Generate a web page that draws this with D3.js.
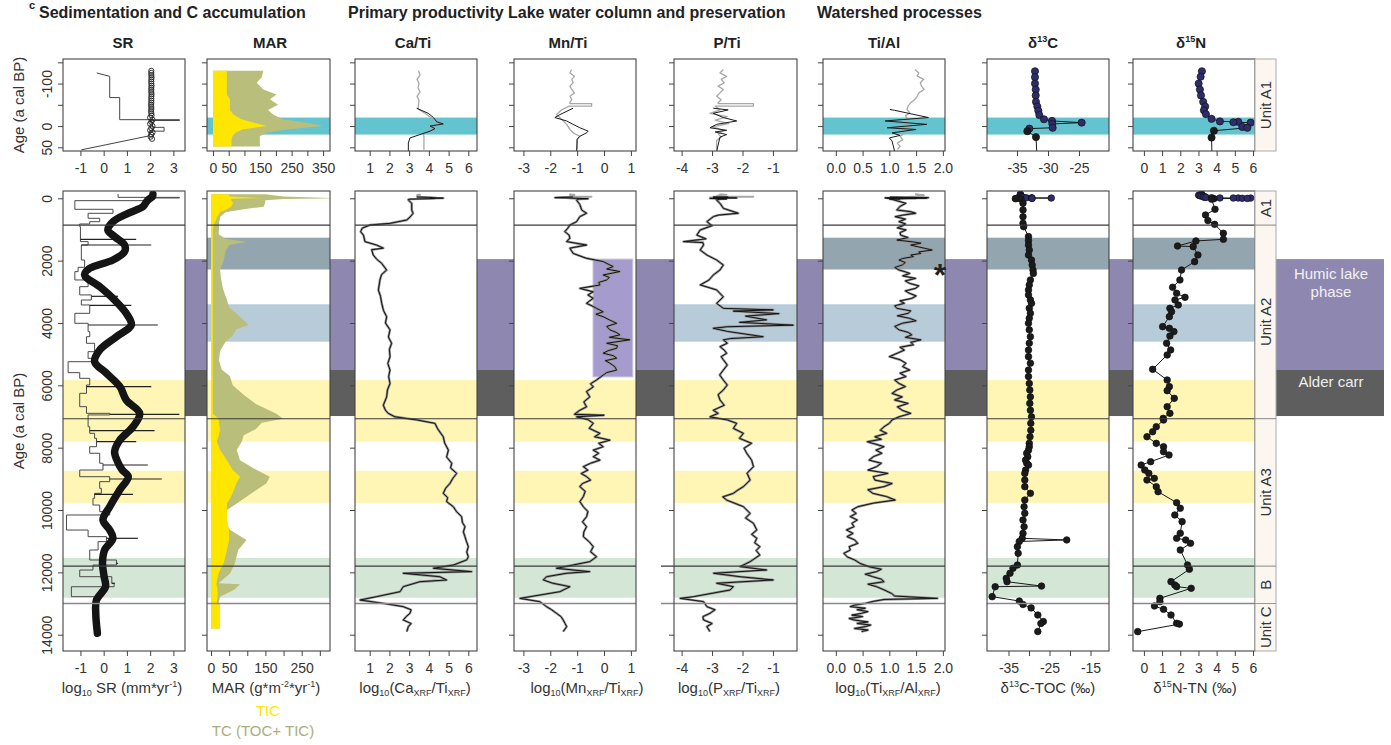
<!DOCTYPE html>
<html>
<head>
<meta charset="utf-8">
<script src="https://cdn.jsdelivr.net/npm/d3@7"></script>
<style>
  body { margin: 0; background: #fff; }
  text { font-family: "Liberation Sans", Arial, sans-serif; }
</style>
</head>
<body>
<svg id="chart" width="1391" height="745"></svg>
<script>
// ---------------- data (ages in a cal BP) ----------------
// intervals
const humicAges = [1950, 5490];
const alderAges = [5490, 6985];
const bandSlate = [1264, 2284];
const bandBlue = [3400, 4600];
const bandYellow1 = [5830, 7810];
const bandYellow2 = [8740, 9770];
const bandGreen = [11540, 12815];
const cyanTop = [-20, 20];
const unitBounds = [860, 7070, 11800, 13000];
const unitNames = ["A1", "Unit A2", "Unit A3", "B", "Unit C"];
const mnBoxAge = [1950, 5730];
const mnBoxVal = [-0.41, 1.07];

// SR top (last ~200 yr)
const srTopAge = [-125, -117, -67, -67, -15, -15, -13, -13, -9, -9, 3, 3, 12, 12, 23, 56];
const srTopVal = [-0.3, 0.26, 0.26, 0.69, 0.69, 3.26, 3.26, 2.0, 2.0, 2.1, 2.1, 2.6, 2.6, 1.96, 1.96, -0.96];
const srCircAge = [-130, -125, -120, -115, -110, -105, -100, -95, -90, -85, -80, -75, -70, -65, -60, -55, -50, -45, -40, -35, -30, -25, -20, -15, -10, -5, 0, 5, 10, 15, 20, 25, 30];
const srCircVal = [2.05, 2.05, 2.05, 2.06, 2.05, 2.05, 2.05, 2.06, 2.05, 2.05, 2.05, 2.06, 2.05, 2.05, 2.05, 2.05, 2.04, 2.05, 2.05, 2.04, 2.05, 2.06, 2.0, 2.1, 2.05, 2.0, 2.1, 2.05, 2.0, 2.1, 2.05, 2.02, 2.08];
// SR bottom: step record, spikes and smoothed curve
const srStepAge = [-140, -30, -10, 76, 353, 482, 642, 750, 824, 910, 1390, 1498, 1980, 2214, 2353, 2620, 2835, 3100, 3263, 3422, 3690, 4010, 4277, 4440, 4652, 4920, 5133, 5242, 5594, 5776, 5990, 6257, 6685, 6898, 6950, 7328, 7540, 7700, 7970, 8180, 8500, 8717, 8931, 9090, 9305, 9465, 9625, 9840, 10053, 10160, 10642, 10855, 11015, 11283, 11604, 11765, 11925, 12140, 12354, 12461, 12780];
const srStepVal = [0.62, 3.26, 2.05, -1.24, 0.4, -0.67, -0.17, -0.6, -1.03, -1.0, -0.67, -0.96, -0.82, -1.1, -1.24, -0.67, -1.03, -0.53, -0.96, -0.6, -1.24, -0.67, -0.6, -0.74, -0.39, -0.67, -0.46, -1.53, -1.03, -0.6, -0.74, -1.03, -0.74, 0.26, -0.67, -0.6, -0.39, -0.31, -0.6, -0.17, -0.03, -1.03, 0.26, -0.17, -0.1, -0.39, -0.46, -0.17, 0.26, -1.6, -0.67, 0.12, -0.24, -0.6, 0.55, -0.46, -1.03, 0.35, 0.45, -1.39, -0.17];
const srStepEnd = 12888;
const srSpikeAge = [1316, 1498, 3145, 3434, 4065, 6044, 6930, 7456, 7808, 8556, 9005, 9497, 10908, 11710, 12351];
const srSpikeVal = [1.4, 2.05, 0.62, 1.19, 2.33, 2.05, 3.26, 2.19, 1.4, 1.9, 2.5, 1.26, 1.47, 0.62, 0.48];
const srSmoothAge = [-130, -60, 0, 100, 268, 482, 750, 1017, 1230, 1498, 1712, 1980, 2246, 2460, 2835, 3263, 3690, 4065, 4440, 4867, 5242, 5614, 6044, 6471, 6898, 7328, 7754, 8129, 8450, 8717, 8931, 9358, 9894, 10320, 10642, 10908, 11283, 11710, 12140, 12461, 12888, 13314, 13956];
const srSmoothVal = [2.12, 2.1, 2.0, 1.85, 1.69, 1.05, 0.4, 0.18, 0.47, 0.9, 0.9, 0.4, -0.6, -0.82, -0.17, 0.47, 0.97, 1.19, 0.55, -0.17, -0.39, 0.12, 0.7, 0.97, 1.55, 1.26, 0.7, 0.47, 0.6, 0.8, 1.06, 0.69, 0.26, -0.03, 0.26, 0.4, 0.04, -0.05, 0.02, 0.08, -0.31, -0.34, -0.27];

// MAR (g m-2 yr-1)
const marTopAge = [-130, -115, -102, -86, -74, -63, -50, -38, -27, -16, -8, 0, 8, 16, 24, 32, 48];
const tcTop = [160, 155, 139, 160, 202, 181, 207, 175, 191, 223, 297, 351, 234, 170, 149, 149, 149];
const ticTop = [44, 44, 44, 44, 44, 54, 54, 54, 65, 90, 130, 171, 93, 72, 62, 59, 59];
const marAge = [-130, -60, -5, 5, 20, 60, 150, 268, 350, 450, 600, 800, 1000, 1150, 1300, 1400, 1500, 1700, 2000, 2300, 2600, 2900, 3260, 3500, 3690, 4065, 4200, 4400, 4600, 4900, 5200, 5500, 5700, 6000, 6300, 6600, 6900, 7070, 7200, 7400, 7600, 7800, 8075, 8400, 8720, 8931, 9145, 9400, 9572, 9800, 10000, 10320, 10642, 10963, 11283, 11710, 12030, 12352, 12380, 12550, 12782, 12995, 13050, 13800];
const tc = [150, 200, 330, 310, 200, 150, 149, 145, 90, 40, 25, 22, 22, 21, 40, 98, 50, 40, 35, 25, 28, 33, 44, 50, 70, 104, 70, 60, 40, 25, 22, 30, 52, 60, 90, 124, 179, 199, 140, 124, 90, 85, 71, 80, 126, 162, 153, 120, 98, 70, 44, 35, 53, 98, 75, 66, 53, 21, 80, 65, 25, 21, 25, 25];
const tic = [44, 54, 138, 76, 55, 55, 61, 55, 44, 25, 17, 10, 5, 5, 5, 5, 5, 5, 5, 5, 5, 5, 5, 5, 5, 5, 5, 5, 5, 5, 5, 5, 5, 5, 5, 5, 5, 21, 22, 25, 22, 16, 25, 44, 60, 80, 70, 62, 55, 44, 44, 44, 50, 50, 44, 35, 21, 15, 15, 18, 18, 16, 25, 25];

// log10 Ca/Ti
const caTopGrayAge = [-130, -120, -110, -100, -90, -80, -70, -60, -50, -40, -30, -20, -10, -4, 2, 8, 14, 20, 24, 40, 56];
const caTopGrayVal = [3.47, 3.55, 3.4, 3.5, 3.45, 3.55, 3.4, 3.5, 3.47, 3.45, 3.8, 4.1, 4.3, 4.5, 4.06, 4.23, 3.9, 3.72, 3.75, 3.75, 3.75];
const caTopAge = [-42, -30, -20, -10, -5, 0, 6, 12, 20, 28, 40, 56];
const caTopVal = [3.38, 3.97, 4.23, 4.4, 4.73, 4.06, 4.31, 4.06, 3.55, 3.04, 2.96, 2.96];
const caAge = [160, 375, 482, 600, 696, 803, 857, 960, 1070, 1180, 1390, 1500, 1600, 1650, 1820, 1950, 2090, 2300, 2450, 2620, 2940, 3150, 3370, 3600, 3800, 4000, 4220, 4450, 4650, 4850, 5080, 5300, 5510, 5720, 5940, 6150, 6370, 6640, 6800, 6900, 7010, 7110, 7220, 7400, 7650, 7850, 8080, 8300, 8500, 8650, 8825, 9000, 9145, 9300, 9465, 9600, 9730, 9894, 10050, 10213, 10400, 10535, 10700, 10855, 11000, 11176, 11350, 11497, 11600, 11765, 11870, 11977, 12030, 12140, 12244, 12300, 12460, 12620, 12780, 12888, 12995, 13100, 13200, 13314, 13420, 13528, 13640, 13741, 13900];
const caVal = [3.13, 3.13, 3.2, 3.05, 2.88, 2.03, 1.02, 0.62, 0.54, 0.68, 0.76, 1.35, 1.69, 1.1, 1.18, 1.35, 1.61, 1.86, 1.6, 1.52, 1.44, 1.55, 1.61, 1.7, 1.86, 1.8, 2.03, 1.95, 2.11, 2.0, 2.03, 1.92, 2.03, 1.96, 2.03, 1.9, 1.86, 1.69, 1.8, 1.94, 2.28, 3.38, 4.31, 4.45, 4.73, 4.8, 4.99, 4.9, 5.16, 5.1, 5.41, 5.2, 5.07, 4.85, 4.73, 4.95, 4.9, 5.24, 5.4, 5.66, 5.7, 5.83, 5.75, 5.83, 5.9, 6.0, 5.92, 6.0, 5.92, 5.24, 4.23, 6.17, 2.7, 4.56, 4.9, 3.55, 2.7, 2.54, 1.35, 0.51, 1.69, 2.7, 3.1, 3.04, 2.85, 2.7, 3.1, 2.96, 2.88];

// log10 Mn/Ti
const mnTopGrayAge = [-133, -125, -117, -110, -102, -94, -86, -78, -70, -62, -55, -53, -53, -47, -47, -38, -27, -16, -4, 8, 16, 24, 32, 55];
const mnTopGrayVal = [-1.21, -1.27, -1.1, -1.2, -1.15, -1.27, -1.2, -1.1, -1.27, -1.2, -1.27, -1.27, -0.46, -0.46, -1.3, -1.58, -1.77, -1.58, -1.39, -1.27, -1.15, -0.9, -1.0, -1.0];
const mnTopAge = [-42, -27, -20, -12, -4, 4, 12, 16, 24, 31, 60];
const mnTopVal = [-1.15, -1.64, -1.83, -1.39, -1.15, -0.9, -0.59, -0.65, -0.9, -1.0, -1.02];
const mnAge = [200, 375, 480, 590, 750, 857, 960, 1070, 1180, 1280, 1390, 1500, 1600, 1770, 1925, 2030, 2110, 2190, 2270, 2350, 2460, 2540, 2620, 2700, 2780, 2890, 3000, 3100, 3210, 3300, 3370, 3450, 3530, 3640, 3720, 3800, 3900, 4010, 4110, 4220, 4300, 4380, 4460, 4540, 4650, 4730, 4810, 4890, 4970, 5050, 5130, 5210, 5290, 5400, 5510, 5590, 5670, 5830, 5950, 6050, 6200, 6370, 6530, 6690, 6800, 6930, 6960, 7010, 7100, 7220, 7380, 7540, 7650, 7760, 7860, 7970, 8080, 8180, 8290, 8400, 8500, 8610, 8720, 8830, 8930, 9040, 9150, 9250, 9400, 9572, 9730, 9894, 10050, 10213, 10380, 10535, 10700, 10855, 11020, 11176, 11340, 11497, 11657, 11765, 11870, 11977, 12030, 12140, 12244, 12350, 12460, 12620, 12835, 12940, 13100, 13200, 13314, 13420, 13528, 13640, 13741, 13900];
const mnVal = [-0.9, -0.83, -0.65, -0.9, -1.02, -1.27, -1.35, -1.46, -1.3, -1.27, -1.39, -0.65, -1.27, -1.15, -0.65, -0.03, 0.15, 0.34, 0.1, 0.59, -0.03, 0.2, 0.1, -0.2, -0.15, -0.9, -0.4, -0.6, -0.4, -0.55, -0.65, -0.45, -0.28, -0.03, -0.3, -0.03, 0.2, 0.47, 0.1, 0.22, 0.45, 0.59, 0.2, 0.96, 0.1, 0.5, 0.47, 0.15, -0.03, 0.35, 0.47, 0.05, 0.22, 0.4, 0.47, 0.1, -0.03, -0.28, -0.5, -0.4, -0.65, -0.53, -0.75, -0.65, -0.9, -1.1, 0.0, -1.02, -0.6, -0.4, -0.55, -0.15, -0.35, 0.22, -0.2, -0.03, -0.4, -0.2, -0.4, -0.15, -0.5, -0.77, -0.6, -0.85, -0.65, -0.5, -0.8, -0.9, -0.7, -0.77, -0.9, -0.77, -0.6, -0.65, -0.8, -0.65, -0.75, -0.77, -0.55, -0.4, -0.5, -0.28, -0.53, -1.15, -1.77, -0.53, -1.4, -2.14, -2.26, -1.9, -1.27, -1.64, -3.13, -2.39, -2.14, -1.95, -1.77, -1.6, -1.52, -1.45, -1.39, -1.52];

// log10 P/Ti
const pTopGrayAge = [-133, -125, -117, -110, -102, -94, -86, -78, -70, -62, -55, -53, -53, -47, -47, -38, -30, -22, -14, -6, 2, 10, 18, 26, 34, 55];
const pTopGrayVal = [-2.63, -2.74, -2.52, -2.7, -2.6, -2.8, -2.63, -2.74, -2.85, -2.7, -2.8, -2.8, -1.64, -1.64, -2.9, -2.74, -3.07, -2.5, -2.9, -2.45, -3.0, -2.6, -2.8, -2.7, -2.85, -2.85];
const pTopAge = [-42, -38, -30, -20, -12, -4, 4, 10, 14, 20, 26, 60];
const pTopVal = [-2.96, -2.47, -2.96, -2.63, -2.19, -2.85, -3.07, -2.52, -2.9, -2.52, -2.74, -2.85];
const pAge = [160, 320, 480, 540, 590, 750, 880, 1017, 1180, 1300, 1390, 1420, 1500, 1660, 1820, 1980, 2140, 2300, 2460, 2620, 2780, 2940, 3160, 3370, 3530, 3580, 3620, 3700, 3780, 3900, 3980, 4070, 4120, 4170, 4270, 4440, 4500, 4540, 4650, 4760, 4870, 4970, 5080, 5180, 5350, 5510, 5670, 5830, 5990, 6150, 6300, 6470, 6640, 6800, 6900, 7010, 7110, 7220, 7380, 7540, 7700, 7860, 8020, 8180, 8400, 8610, 8820, 9040, 9250, 9360, 9465, 9580, 9680, 9894, 10107, 10260, 10428, 10642, 10780, 10908, 11050, 11176, 11300, 11443, 11657, 11817, 11924, 12030, 12140, 12244, 12350, 12460, 12567, 12780, 12835, 12940, 13100, 13200, 13314, 13420, 13528, 13640, 13741, 13900];
const pVal = [-2.74, -2.63, -2.14, -2.8, -2.96, -3.17, -3.0, -3.39, -3.5, -3.2, -3.94, -3.3, -3.28, -3.39, -3.17, -2.85, -2.63, -2.74, -2.96, -3.1, -3.39, -2.85, -2.63, -2.85, -2.63, -0.99, -2.3, -0.8, -1.9, -1.21, -2.1, -0.33, -2.5, -2.96, -2.5, -1.32, -2.4, -2.63, -2.5, -2.74, -2.6, -2.52, -2.7, -2.63, -2.5, -2.63, -2.75, -2.63, -2.5, -2.63, -2.8, -2.74, -2.6, -2.96, -2.8, -3.07, -2.5, -2.19, -2.3, -1.97, -2.1, -1.7, -1.95, -1.86, -1.7, -1.64, -1.85, -1.75, -1.97, -2.15, -2.3, -2.65, -2.52, -1.97, -1.75, -1.9, -1.64, -1.53, -1.7, -1.53, -1.6, -1.43, -1.55, -1.43, -1.75, -2.08, -1.21, -2.95, -2.08, -0.99, -2.85, -2.3, -2.41, -3.61, -4.05, -3.28, -3.17, -2.9, -3.07, -3.3, -3.28, -3.0, -3.17, -3.07];

// log10 Ti/Al
const tiTopGrayAge = [-133, -125, -118, -110, -102, -94, -86, -78, -70, -63, -55, -47, -39, -31, -24, -16, -8, 0, 8, 16, 24, 32, 40, 48, 55];
const tiTopGrayVal = [1.48, 1.55, 1.52, 1.64, 1.58, 1.6, 1.65, 1.55, 1.52, 1.48, 1.4, 1.35, 1.33, 1.38, 1.3, 1.35, 1.25, 1.4, 1.2, 1.3, 1.2, 1.25, 1.15, 1.2, 1.15];
const tiTopAge = [-39, -37, -20, -12, -4, 4, 8, 16, 22, 28, 35, 60];
const tiTopVal = [1.01, 1.1, 1.73, 0.92, 1.7, 0.96, 1.5, 1.05, 1.2, 1.0, 1.05, 1.1];
const tiAge = [160, 260, 375, 430, 480, 540, 590, 670, 750, 820, 880, 950, 1017, 1100, 1180, 1260, 1340, 1400, 1440, 1500, 1550, 1600, 1660, 1720, 1770, 1820, 1870, 1930, 1980, 2060, 2140, 2220, 2300, 2360, 2410, 2490, 2570, 2650, 2730, 2810, 2890, 2970, 3050, 3130, 3210, 3290, 3370, 3450, 3530, 3610, 3690, 3770, 3850, 3930, 4010, 4110, 4220, 4300, 4380, 4460, 4540, 4620, 4700, 4780, 4870, 4970, 5080, 5180, 5290, 5400, 5510, 5610, 5720, 5830, 5940, 6040, 6150, 6260, 6370, 6470, 6580, 6690, 6800, 6900, 7010, 7110, 7220, 7330, 7440, 7540, 7650, 7730, 7810, 7890, 7970, 8080, 8180, 8290, 8400, 8500, 8610, 8720, 8825, 8930, 9040, 9150, 9250, 9350, 9465, 9570, 9680, 9780, 9894, 10000, 10107, 10213, 10320, 10428, 10535, 10640, 10750, 10855, 10960, 11070, 11176, 11283, 11390, 11500, 11600, 11710, 11820, 11900, 11977, 12060, 12140, 12220, 12300, 12380, 12460, 12560, 12675, 12760, 12835, 12870, 12930, 12995, 13050, 13100, 13150, 13200, 13260, 13314, 13370, 13420, 13480, 13528, 13590, 13640, 13690, 13741, 13800, 13850, 13900];
const tiVal = [1.31, 1.2, 1.14, 1.4, 1.49, 1.25, 1.11, 1.3, 1.18, 1.3, 1.25, 1.15, 1.31, 1.2, 1.21, 1.35, 1.14, 1.45, 1.59, 1.4, 1.52, 1.65, 1.8, 1.55, 1.59, 1.4, 1.45, 1.25, 1.18, 1.3, 1.24, 1.1, 1.18, 1.3, 1.38, 1.25, 1.49, 1.3, 1.38, 1.55, 1.49, 1.3, 1.38, 1.5, 1.42, 1.2, 1.28, 1.1, 1.14, 1.4, 1.35, 1.15, 1.38, 1.5, 1.24, 1.1, 1.18, 1.35, 1.42, 1.3, 1.59, 1.4, 1.45, 1.2, 1.28, 1.15, 1.0, 1.2, 1.31, 1.25, 1.38, 1.2, 1.31, 1.1, 1.18, 1.3, 1.14, 1.05, 1.24, 1.1, 1.35, 1.15, 1.24, 1.4, 1.18, 1.05, 1.0, 0.9, 0.83, 0.95, 0.73, 0.85, 0.59, 0.75, 0.9, 0.75, 0.86, 0.7, 0.62, 0.85, 0.76, 0.6, 0.97, 0.7, 0.73, 1.05, 0.9, 0.6, 0.69, 0.95, 1.11, 0.7, 0.41, 0.3, 0.38, 0.27, 0.4, 0.3, 0.34, 0.2, 0.32, 0.21, 0.35, 0.41, 0.25, 0.27, 0.15, 0.21, 0.35, 0.45, 0.62, 0.85, 0.76, 0.55, 0.69, 0.85, 0.9, 0.6, 0.76, 0.9, 1.04, 1.1, 1.9, 0.9, 0.7, 0.55, 0.35, 0.27, 0.55, 0.4, 0.6, 0.48, 0.3, 0.5, 0.25, 0.34, 0.6, 0.4, 0.65, 0.55, 0.35, 0.6, 0.48];

// d13C-TOC (permil)
const c13TopAge = [-129, -115, -100, -86, -72, -57, -46, -36, -26, -16, -12, -8, -5, 4, 6, 12, 26];
const c13TopVal = [-32.1, -32.1, -32.1, -31.98, -31.98, -31.94, -31.72, -31.56, -31.4, -30.65, -29.35, -24.57, -29.3, -29.25, -33.0, -33.33, -31.94];
const c13Age = [160, 375, 590, 800, 910, 1230, 1360, 1500, 1660, 1820, 1980, 2140, 2300, 2410, 2620, 2780, 2940, 3100, 3260, 3370, 3530, 3690, 3850, 4010, 4220, 4440, 4650, 4870, 5080, 5290, 5510, 5720, 5940, 6150, 6370, 6580, 6800, 7010, 7220, 7440, 7650, 7860, 7970, 8080, 8180, 8290, 8400, 8500, 8560, 8720, 8825, 9040, 9250, 9465, 9680, 9894, 10107, 10320, 10535, 10750, 10908, 10960, 11010, 11176, 11390, 11765, 11870, 12030, 12190, 12300, 12440, 12460, 12780, 12920, 13030, 13140, 13370, 13580, 13640, 13900];
const c13Val = [-31.46, -31.46, -31.46, -31.46, -31.3, -30.12, -30.12, -30.12, -29.93, -30.12, -29.39, -29.22, -29.02, -28.94, -29.66, -29.93, -30.12, -30.12, -29.66, -29.39, -29.93, -29.66, -29.93, -30.12, -29.93, -29.66, -29.93, -30.12, -30.12, -29.66, -30.12, -30.12, -29.93, -29.8, -29.66, -29.8, -29.66, -29.39, -29.56, -29.56, -29.75, -29.93, -29.93, -30.12, -30.56, -30.3, -30.83, -30.56, -30.12, -30.83, -31.02, -31.02, -31.02, -29.66, -31.02, -31.2, -31.02, -31.46, -31.2, -31.46, -31.66, -20.8, -32.37, -32.83, -32.64, -32.83, -33.9, -34.63, -35.54, -35.36, -26.95, -38.24, -38.98, -32.37, -31.46, -29.48, -27.85, -26.5, -27.1, -27.85];

// d15N-TN (permil)
const n15TopAge = [-129, -116, -100, -86, -72, -57, -46, -37, -28, -17, -11, -10, -9, -8, 2, 4, 11, 27];
const n15TopVal = [3.19, 3.12, 3.01, 3.08, 3.14, 3.26, 3.37, 3.3, 3.41, 3.72, 4.18, 5.19, 4.92, 5.87, 5.41, 5.69, 3.85, 3.72];
const n15Age = [353, 535, 716, 835, 1123, 1316, 1369, 1530, 1551, 1818, 2032, 2300, 2620, 2856, 3048, 3177, 3262, 3422, 3529, 3636, 3797, 4117, 4170, 4277, 4416, 4652, 4866, 5027, 5487, 5829, 6043, 6171, 6418, 6685, 6899, 7060, 7114, 7328, 7488, 7648, 7862, 7969, 8129, 8236, 8450, 8557, 8717, 8824, 8985, 9038, 9252, 9412, 9765, 9945, 10159, 10373, 10747, 10908, 10961, 11068, 11282, 11763, 11902, 12298, 12405, 12458, 12512, 12833, 12940, 13079, 13186, 13368, 13635, 13660, 13902];
const n15Val = [3.91, 3.39, 3.52, 3.89, 4.37, 4.37, 2.86, 1.85, 2.71, 2.97, 2.79, 2.07, 1.98, 1.58, 1.8, 2.26, 1.71, 1.89, 1.43, 1.52, 1.4, 1.03, 1.4, 1.65, 1.43, 1.25, 1.47, 1.28, 0.48, 1.28, 1.4, 1.28, 1.67, 1.28, 1.43, 1.06, 1.08, 0.68, 0.48, 0.17, 0.68, 1.08, 1.08, 1.38, 0.37, -0.15, 0.05, 0.27, 0.57, 0.17, 0.68, 0.78, 1.8, 2.0, 1.7, 2.1, 2.0, 1.8, 2.3, 2.56, 2.0, 2.4, 2.5, 1.49, 1.7, 1.8, 2.6, 0.88, 0.88, 0.58, 1.08, 1.49, 1.8, 1.95, -0.34];

// ticks and labels
const ageTopTicks = [-150, -100, -50, 0, 50];
const ageTopLabels = [-100, 0, 50];
const ageBotTicks = [0, 2000, 4000, 6000, 8000, 10000, 12000, 14000];
const srTicks = [-1, 0, 1, 2, 3];
const marTopTicks = [0, 50, 100, 150, 200, 250, 300, 350];
const marTopLabels = [0, 50, 150, 250, 350];
const marBotTicks = [0, 50, 100, 150, 200, 250, 300];
const marBotLabels = [0, 50, 150, 250];
const caTicks = [1, 2, 3, 4, 5, 6];
const mnTicks = [-3, -2, -1, 0, 1];
const pTicks = [-4, -3, -2, -1];
const tiTicks = [0, 0.5, 1, 1.5, 2];
const c13TopTicks = [-35, -30, -25];
const c13BotTicks = [-35, -30, -25, -20, -15];
const c13BotLabels = [-35, -25, -15];
const n15Ticks = [0, 1, 2, 3, 4, 5, 6];

// ---------------- layout ----------------
const svg = d3.select("#chart");
const FF = '"Liberation Sans", Arial, sans-serif';
const INK = "#333";
const C = {
  humic: "#8E88B1", alder: "#5E5E5E", slate: "#93A6AF", blue: "#B7CBD9",
  yellow: "#FFF6B6", green: "#D4E7D6", cyan: "#63C3CF", mnBox: "#A59BCC",
  tic: "#FFE600", tc: "#B9BE7A", navy: "#2F2C6C", strip: "#FBF6EF"
};
const yTop = d3.scaleLinear().domain([-157.8, 58.7]).range([59, 151]);
const yBot = d3.scaleLinear().domain([-234, 14523]).range([191, 651]);

const cols = [
  { key: "sr",  x0: 63,   x1: 185,  top: [-1.75, 3.5],    bot: [-1.75, 3.5] },
  { key: "mar", x0: 207,  x1: 330,  top: [-19, 372],      bot: [-11, 328] },
  { key: "ca",  x0: 355,  x1: 477,  top: [0.255, 6.44],   bot: [0.255, 6.44] },
  { key: "mn",  x0: 514,  x1: 636,  top: [-3.35, 1.19],   bot: [-3.35, 1.19] },
  { key: "p",   x0: 674,  x1: 797,  top: [-4.25, -0.21],  bot: [-4.25, -0.21] },
  { key: "ti",  x0: 823,  x1: 945,  top: [-0.24, 2.04],   bot: [-0.24, 2.04] },
  { key: "c13", x0: 987,  x1: 1109, top: [-39.84, -20.16], bot: [-40.24, -10.49] },
  { key: "n15", x0: 1133, x1: 1255, top: [-0.6, 6.11],    bot: [-0.6, 6.11] }
];
const col = k => cols.find(c => c.key === k);

const pts = (ages, vals) => ages.map((a, i) => [vals[i], a]);
const lineOf = p => d3.line().x(d => p.x(d[0])).y(d => p.y(d[1]));

// background phases (Humic lake phase, Alder carr)
[[humicAges, C.humic], [alderAges, C.alder]].forEach(([r, fill]) => {
  svg.append("rect").attr("x", 185).attr("width", 1384 - 185)
    .attr("y", yBot(r[0])).attr("height", yBot(r[1]) - yBot(r[0])).attr("fill", fill);
});

function makePanel(c, row) {
  const y = row === "top" ? yTop : yBot;
  const [py0, py1] = y.range();
  const x = d3.scaleLinear().domain(c[row]).range([c.x0, c.x1]);
  const g = svg.append("g");
  g.append("rect").attr("x", c.x0).attr("y", py0).attr("width", c.x1 - c.x0)
    .attr("height", py1 - py0).attr("fill", "#fff");
  const id = "clip-" + c.key + "-" + row;
  svg.append("clipPath").attr("id", id).append("rect")
    .attr("x", c.x0).attr("y", py0).attr("width", c.x1 - c.x0).attr("height", py1 - py0);
  const bands = g.append("g");
  const data = g.append("g").attr("clip-path", "url(#" + id + ")");
  const over = g.append("g");
  return { c, x, y, g, bands, data, over, py0, py1 };
}

function band(p, r, fill) {
  p.bands.append("rect").attr("x", p.c.x0).attr("width", p.c.x1 - p.c.x0)
    .attr("y", p.y(r[0])).attr("height", p.y(r[1]) - p.y(r[0])).attr("fill", fill);
}

function styleAxis(g) {
  g.select(".domain").remove();
  g.selectAll("line").attr("stroke", "#444");
  g.selectAll("text").attr("font-size", 14).attr("font-family", FF).attr("fill", INK);
}

function axes(p, xt, xl, fmt, yt, yl) {
  const gx = p.g.append("g").attr("transform", "translate(0," + p.py1 + ")")
    .call(d3.axisBottom(p.x).tickValues(xt).tickSize(5).tickPadding(7)
      .tickFormat(d => xl.includes(d) ? fmt(d) : ""));
  styleAxis(gx);
  const gy = p.g.append("g").attr("transform", "translate(" + p.c.x0 + ",0)")
    .call(d3.axisLeft(p.y).tickValues(yt).tickSize(5)
      .tickFormat(d => yl.includes(d) ? String(d) : ""));
  styleAxis(gy);
  gy.selectAll("text").attr("x", 0).attr("dy", 0).attr("text-anchor", "middle")
    .attr("transform", "translate(-11,0) rotate(-90)");
}

function frame(p) {
  p.over.append("rect").attr("x", p.c.x0).attr("y", p.py0).attr("width", p.c.x1 - p.c.x0)
    .attr("height", p.py1 - p.py0).attr("fill", "none").attr("stroke", "#444").attr("stroke-width", 1.1);
}

function unitLines(p, ext) {
  unitBounds.forEach((a, i) => {
    p.over.append("line").attr("x1", p.c.x0 - (ext && i >= 2 ? 13 : 0)).attr("x2", p.c.x1)
      .attr("y1", p.y(a)).attr("y2", p.y(a))
      .attr("stroke", i === 3 ? "#8a8a8a" : "#3a3a3a").attr("stroke-width", i === 3 ? 1.6 : 1.1);
  });
}

function pathLine(p, data, stroke, w) {
  p.data.append("path").attr("d", lineOf(p)(data)).attr("fill", "none")
    .attr("stroke", stroke).attr("stroke-width", w).attr("stroke-linejoin", "round");
}

function dots(p, data, r, topCluster) {
  p.data.append("g").selectAll("circle").data(data).join("circle")
    .attr("cx", d => p.x(d[0])).attr("cy", d => p.y(d[1])).attr("r", r)
    .attr("fill", d => topCluster && d[1] < 10 ? C.navy : "#1b1b1b")
    .attr("stroke", "#111").attr("stroke-width", 0.7);
}

const intFmt = d => String(d);
const fix1 = d => d.toFixed(1);

// ---------- SR ----------
{
  const c = col("sr");
  const t = makePanel(c, "top");
  pathLine(t, pts(srTopAge, srTopVal), "#444", 1);
  t.data.append("g").selectAll("circle").data(pts(srCircAge, srCircVal)).join("circle")
    .attr("cx", d => t.x(d[0])).attr("cy", d => t.y(d[1])).attr("r", 2.6)
    .attr("fill", "none").attr("stroke", "#222").attr("stroke-width", 0.9);
  frame(t);
  axes(t, srTicks, srTicks, intFmt, ageTopTicks, ageTopLabels);

  const b = makePanel(c, "bot");
  [bandYellow1, bandYellow2].forEach(r => band(b, r, C.yellow));
  band(b, bandGreen, C.green);
  const step = [];
  srStepAge.forEach((a, i) => {
    const e = i < srStepAge.length - 1 ? srStepAge[i + 1] : srStepEnd;
    step.push([srStepVal[i], a], [srStepVal[i], e]);
  });
  pathLine(b, step, "#4a4a4a", 1);
  srSpikeAge.forEach((a, i) => {
    const k = Math.max(0, d3.bisectRight(srStepAge, a) - 1);
    b.data.append("line").attr("x1", b.x(srStepVal[k])).attr("x2", b.x(srSpikeVal[i]))
      .attr("y1", b.y(a)).attr("y2", b.y(a)).attr("stroke", "#222").attr("stroke-width", 1.2);
  });
  b.data.append("path").attr("d", d3.line().curve(d3.curveCatmullRom)
      .x(d => b.x(d[0])).y(d => b.y(d[1]))(pts(srSmoothAge, srSmoothVal)))
    .attr("fill", "none").attr("stroke", "#151515").attr("stroke-width", 7.5)
    .attr("stroke-linecap", "round").attr("stroke-linejoin", "round");
  unitLines(b);
  frame(b);
  axes(b, srTicks, srTicks, intFmt, ageBotTicks, ageBotTicks);
}

// ---------- MAR ----------
function marArea(p, ages, vals, fill) {
  p.data.append("path").attr("fill", fill).attr("d", d3.area()
    .y(i => p.y(ages[i])).x0(p.x(0)).x1(i => p.x(vals[i]))(d3.range(ages.length)));
}
{
  const c = col("mar");
  const t = makePanel(c, "top");
  band(t, cyanTop, C.cyan);
  marArea(t, marTopAge, tcTop, C.tc);
  marArea(t, marTopAge, ticTop, C.tic);
  frame(t);
  axes(t, marTopTicks, marTopLabels, intFmt, ageTopTicks, []);

  const b = makePanel(c, "bot");
  band(b, bandSlate, C.slate); band(b, bandBlue, C.blue);
  [bandYellow1, bandYellow2].forEach(r => band(b, r, C.yellow));
  band(b, bandGreen, C.green);
  marArea(b, marAge, tc, C.tc);
  marArea(b, marAge, tic, C.tic);
  unitLines(b);
  frame(b);
  axes(b, marBotTicks, marBotLabels, intFmt, ageBotTicks, []);
}

// ---------- XRF ratio columns ----------
function xrfColumn(key, topGray, topBlack, lower, cfg) {
  const c = col(key);
  const t = makePanel(c, "top");
  if (cfg.cyan) band(t, cyanTop, C.cyan);
  pathLine(t, topGray, "#a8a8a8", 1.3);
  pathLine(t, topBlack.concat(lower), "#1a1a1a", 1);
  frame(t);
  axes(t, cfg.ticks, cfg.ticks, cfg.fmt, ageTopTicks, []);

  const b = makePanel(c, "bot");
  if (cfg.slate) band(b, bandSlate, C.slate);
  if (cfg.blue) band(b, bandBlue, C.blue);
  [bandYellow1, bandYellow2].forEach(r => band(b, r, C.yellow));
  band(b, bandGreen, C.green);
  if (cfg.box) {
    b.bands.append("rect").attr("x", b.x(mnBoxVal[0])).attr("width", b.x(mnBoxVal[1]) - b.x(mnBoxVal[0]))
      .attr("y", b.y(mnBoxAge[0])).attr("height", b.y(mnBoxAge[1]) - b.y(mnBoxAge[0]))
      .attr("fill", C.mnBox).attr("stroke", "#c9c4e0").attr("stroke-width", 1);
  }
  const all = topBlack.concat(lower);
  pathLine(b, topGray, "#a8a8a8", 1.6);
  pathLine(b, all, "#8f8f8f", 2.4);
  pathLine(b, all, "#141414", 1);
  unitLines(b, cfg.ext);
  frame(b);
  axes(b, cfg.ticks, cfg.ticks, cfg.fmt, ageBotTicks, []);
  return b;
}

xrfColumn("ca", pts(caTopGrayAge, caTopGrayVal), pts(caTopAge, caTopVal), pts(caAge, caVal),
  { cyan: true, ticks: caTicks, fmt: intFmt });
xrfColumn("mn", pts(mnTopGrayAge, mnTopGrayVal), pts(mnTopAge, mnTopVal), pts(mnAge, mnVal),
  { box: true, ticks: mnTicks, fmt: intFmt });
xrfColumn("p", pts(pTopGrayAge, pTopGrayVal), pts(pTopAge, pTopVal), pts(pAge, pVal),
  { blue: true, ext: true, ticks: pTicks, fmt: intFmt });
const tiPanel = xrfColumn("ti", pts(tiTopGrayAge, tiTopGrayVal), pts(tiTopAge, tiTopVal), pts(tiAge, tiVal),
  { cyan: true, slate: true, blue: true, ticks: tiTicks, fmt: fix1 });
tiPanel.over.append("text").attr("x", 940).attr("y", 286).attr("text-anchor", "middle")
  .attr("font-size", 32).attr("font-weight", "bold").attr("fill", "#222").text("*");

// ---------- isotopes ----------
function isoColumn(key, top, lower, cfg) {
  const c = col(key);
  const all = top.concat(lower);
  const t = makePanel(c, "top");
  band(t, cyanTop, C.cyan);
  pathLine(t, all, "#1a1a1a", 1);
  dots(t, all, 3.6, true);
  frame(t);
  axes(t, cfg.topTicks, cfg.topTicks, intFmt, ageTopTicks, []);

  const b = makePanel(c, "bot");
  band(b, bandSlate, C.slate);
  if (cfg.blue) band(b, bandBlue, C.blue);
  [bandYellow1, bandYellow2].forEach(r => band(b, r, C.yellow));
  band(b, bandGreen, C.green);
  pathLine(b, all, "#1a1a1a", 1);
  dots(b, all, 3.3, true);
  unitLines(b);
  frame(b);
  axes(b, cfg.botTicks, cfg.botLabels, intFmt, ageBotTicks, []);
}
isoColumn("c13", pts(c13TopAge, c13TopVal), pts(c13Age, c13Val),
  { topTicks: c13TopTicks, botTicks: c13BotTicks, botLabels: c13BotLabels });
isoColumn("n15", pts(n15TopAge, n15TopVal), pts(n15Age, n15Val),
  { blue: true, topTicks: n15Ticks, botTicks: n15Ticks, botLabels: n15Ticks });

// ---------- unit strip ----------
const sx0 = 1255, sx1 = 1276;
[[59, 151], [191, 651]].forEach(([a, b]) => {
  svg.append("rect").attr("x", sx0).attr("y", a).attr("width", sx1 - sx0).attr("height", b - a)
    .attr("fill", C.strip).attr("stroke", "#aaa").attr("stroke-width", 1);
});
const unitEdges = [yBot.domain()[0]].concat(unitBounds, [yBot.domain()[1]]);
unitBounds.forEach((a, i) => {
  svg.append("line").attr("x1", sx0).attr("x2", sx1).attr("y1", yBot(a)).attr("y2", yBot(a))
    .attr("stroke", i === 3 ? "#999" : "#888").attr("stroke-width", 1);
});
function vText(x, y, txt, size, fill) {
  return svg.append("text").attr("transform", "translate(" + x + "," + y + ") rotate(-90)")
    .attr("text-anchor", "middle").attr("font-size", size).attr("fill", fill || INK).text(txt);
}
vText(1271, 105, "Unit A1", 15);
unitNames.forEach((n, i) => {
  vText(1271, (yBot(unitEdges[i]) + yBot(unitEdges[i + 1])) / 2, n, 15);
});

// phase labels
const phaseX = 1331;
[["Humic lake", 279], ["phase", 297]].forEach(([s, y]) => {
  svg.append("text").attr("x", phaseX).attr("y", y).attr("text-anchor", "middle")
    .attr("font-size", 15).attr("fill", "#f2f2f2").text(s);
});
svg.append("text").attr("x", phaseX).attr("y", 387).attr("text-anchor", "middle")
  .attr("font-size", 15).attr("fill", "#eeeeee").text("Alder carr");

// ---------- text ----------
function rich(sel, parts, size) {
  let off = 0;
  parts.forEach(p => {
    const target = p.sup ? -size * 0.38 : p.sub ? size * 0.22 : 0;
    sel.append("tspan").attr("dy", target - off)
      .attr("font-size", p.sup || p.sub ? size * 0.6 : size).text(p.t);
    off = target;
  });
}
function label(x, y, parts, size, opts = {}) {
  const t = svg.append("text").attr("x", x).attr("y", y).attr("text-anchor", opts.anchor || "middle")
    .attr("fill", opts.fill || INK).attr("font-weight", opts.bold ? "bold" : null)
    .attr("font-size", size);
  rich(t, parts, size);
  return t;
}

// panel letter (mostly cropped in the source figure)
svg.append("text").attr("x", 29).attr("y", 9).attr("font-size", 11).attr("font-weight", "bold")
  .attr("fill", "#222").text("c");

const groupHeads = [["Sedimentation and C accumulation", 39], ["Primary productivity Lake water column and preservation", 348], ["Watershed processes", 817]];
groupHeads.forEach(([s, x]) => label(x, 18, [{ t: s }], 16, { bold: true, anchor: "start", fill: "#222" }));

const titleParts = [
  [{ t: "SR" }], [{ t: "MAR" }], [{ t: "Ca/Ti" }], [{ t: "Mn/Ti" }], [{ t: "P/Ti" }], [{ t: "Ti/Al" }],
  [{ t: "δ" }, { t: "13", sup: 1 }, { t: "C" }], [{ t: "δ" }, { t: "15", sup: 1 }, { t: "N" }]
];
const titleX = [123, 270, 413, 568, 727, 884, 1043, 1191];
titleParts.forEach((p, i) => label(titleX[i], 48, p, 15, { bold: true, fill: "#222" }));

const xr = (el) => [{ t: "log" }, { t: "10", sub: 1 }, { t: "(" + el[0] }, { t: "XRF", sub: 1 }, { t: "/" + el[1] }, { t: "XRF", sub: 1 }, { t: ")" }];
const xLabelParts = [
  [{ t: "log" }, { t: "10", sub: 1 }, { t: " SR (mm*yr" }, { t: "-1", sup: 1 }, { t: ")" }],
  [{ t: "MAR (g*m" }, { t: "-2", sup: 1 }, { t: "*yr" }, { t: "-1", sup: 1 }, { t: ")" }],
  xr(["Ca", "Ti"]), xr(["Mn", "Ti"]), xr(["P", "Ti"]), xr(["Ti", "Al"]),
  [{ t: "δ" }, { t: "13", sup: 1 }, { t: "C-TOC (‰)" }],
  [{ t: "δ" }, { t: "15", sup: 1 }, { t: "N-TN (‰)" }]
];
const xLabelX = [122, 266, 415, 587, 729, 888, 1048, 1195];
xLabelParts.forEach((p, i) => label(xLabelX[i], 693, p, 15));
label(268, 716, [{ t: "TIC" }], 15, { fill: "#FFE600" });
label(263, 736, [{ t: "TC (TOC+ TIC)" }], 15, { fill: "#A9AE7C" });

vText(24, 105, "Age (a cal BP)", 15);
vText(24, 421, "Age (a cal BP)", 15);
</script>
</body>
</html>
